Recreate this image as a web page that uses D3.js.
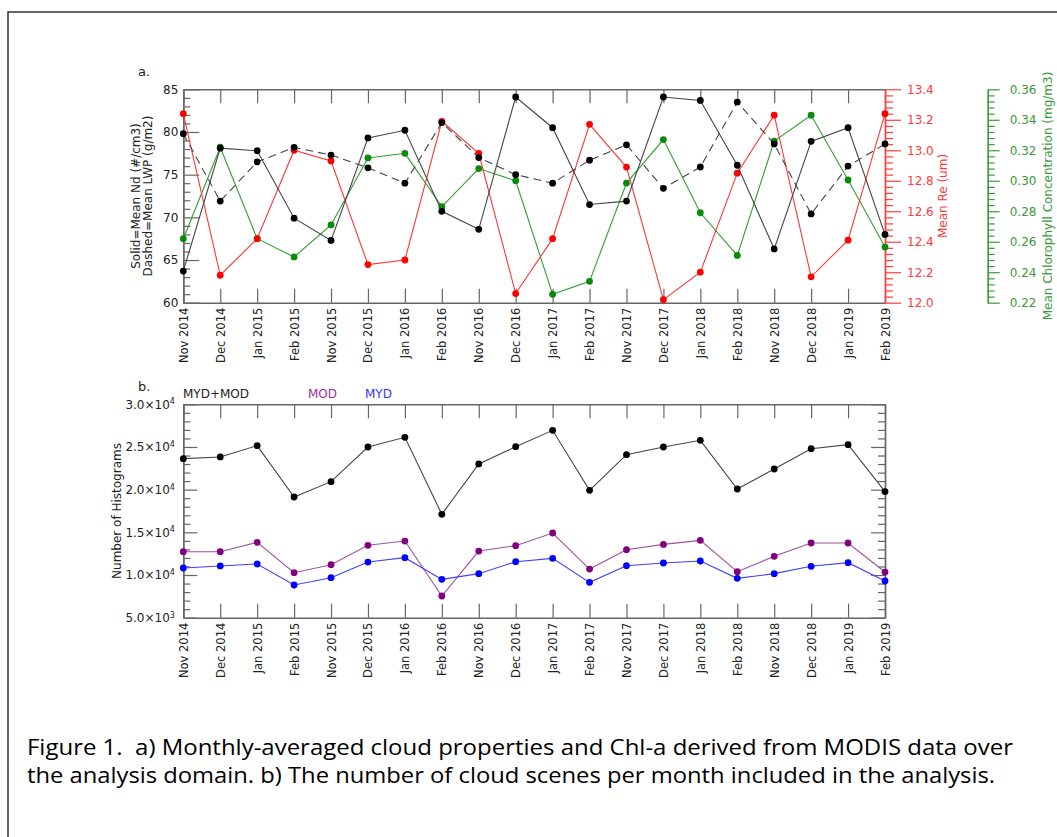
<!DOCTYPE html>
<html><head><meta charset="utf-8">
<script src="https://cdn.jsdelivr.net/npm/d3@7"></script>
<style>
body{margin:0;background:#fff}
svg{display:block}
text{font-family:"DejaVu Sans",sans-serif}
</style>
</head><body>
<svg id="c" width="1057" height="837"></svg>
<script>
// ---------- data ----------
const months = ["Nov 2014","Dec 2014","Jan 2015","Feb 2015","Nov 2015","Dec 2015","Jan 2016","Feb 2016",
  "Nov 2016","Dec 2016","Jan 2017","Feb 2017","Nov 2017","Dec 2017","Jan 2018","Feb 2018",
  "Nov 2018","Dec 2018","Jan 2019","Feb 2019"];
const meanNd  = [63.7,78.1,77.8,69.9,67.3,79.3,80.2,70.7,68.6,84.1,80.5,71.5,71.9,84.1,83.7,76.1,66.3,78.9,80.5,68.0];
const meanLWP = [79.8,71.9,76.5,78.2,77.3,75.8,74.0,81.1,77.0,75.0,74.0,76.7,78.5,73.4,75.9,83.5,78.6,70.4,76.0,78.6];
const meanRe  = [13.24,12.18,12.42,13.00,12.93,12.25,12.28,13.19,12.98,12.06,12.42,13.17,12.89,12.02,12.20,12.85,13.23,12.17,12.41,13.24];
const meanChl = [0.262,0.322,0.262,0.250,0.271,0.315,0.318,0.283,0.308,0.300,0.2255,0.234,0.2985,0.327,0.279,0.251,0.326,0.343,0.3005,0.2565];
const histTotal = [23630,23830,25160,19140,20940,25000,26130,17110,23010,25040,26950,19920,24100,25000,25780,20080,22420,24800,25270,19770];
const histMOD   = [12730,12730,13830,10270,11210,13480,13980,7540,12810,13440,14920,10700,12970,13590,14060,10390,12190,13750,13750,10350];
const histMYD   = [10820,11060,11290,8830,9690,11520,12030,9490,10160,11560,11950,9140,11090,11410,11640,9610,10160,11020,11450,9300];
const ndTicks  = [60,65,70,75,80,85];
const reTicks  = [12.0,12.2,12.4,12.6,12.8,13.0,13.2,13.4];
const chlTicks = [0.22,0.24,0.26,0.28,0.30,0.32,0.34,0.36];
const histTicks = [5000,10000,15000,20000,25000,30000];
const captionLines = [
  "Figure 1.  a) Monthly-averaged cloud properties and Chl-a derived from MODIS data over",
  "the analysis domain. b) The number of cloud scenes per month included in the analysis."
];

// ---------- layout ----------
const svg = d3.select("#c");
svg.append("rect").attr("width",1057).attr("height",837).attr("fill","#fff");
// outer frame
svg.append("path").attr("d","M8,837V12H1057").attr("fill","none").attr("stroke","#333").attr("stroke-width",1.5);

const X0 = 183.3, X1 = 885;
const x = d3.scalePoint().domain(months).range([X0, X1]);
const AX = "#666", TXT = "#222";
const MAJ = 14, MIN = 7;

function minorVals(major, n){
  const out=[];
  for(let i=0;i<major.length-1;i++){
    const a=major[i], b=major[i+1];
    for(let k=1;k<n;k++) out.push(a+(b-a)*k/n);
  }
  return out;
}
function styleAxis(g, color, lw){
  g.select(".domain").attr("stroke", color).attr("stroke-width", lw||1.4);
  g.selectAll(".tick line").attr("stroke", color).attr("stroke-width",1.2);
  g.selectAll("text").attr("fill", color===AX?TXT:color).style("font-size","12px").style("font-family","DejaVu Sans, sans-serif");
}
function xAxes(top, bot){
  const gb = svg.append("g").attr("transform",`translate(0,${bot})`)
    .call(d3.axisBottom(x).tickSize(-MAJ).tickSizeOuter(0).tickPadding(0));
  styleAxis(gb, AX);
  gb.selectAll("text").attr("transform","rotate(-90)").attr("x",-5).attr("y",0).attr("dy","0.35em")
    .style("text-anchor","end").style("font-size","11.5px");
  const gt = svg.append("g").attr("transform",`translate(0,${top})`)
    .call(d3.axisTop(x).tickSize(-MAJ).tickSizeOuter(0).tickFormat(""));
  styleAxis(gt, AX);
}
function line(vals, y){
  return d3.line().x((d,i)=>x(months[i])).y(d=>y(d))(vals);
}
function series(vals, y, lineColor, dotColor, dash){
  svg.append("path").attr("d", line(vals,y)).attr("fill","none").attr("stroke",lineColor)
    .attr("stroke-width",1.1).attr("stroke-dasharray", dash||null);
  svg.append("g").selectAll("circle").data(vals).join("circle")
    .attr("cx",(d,i)=>x(months[i])).attr("cy",d=>y(d)).attr("r",3.4).attr("fill",dotColor);
}

// ---------- panel a ----------
const aTop = 89.3, aBot = 302.7;
const yNd  = d3.scaleLinear().domain([60,85]).range([aBot,aTop]);
const yRe  = d3.scaleLinear().domain([12,13.4]).range([aBot,aTop]);
const yChl = d3.scaleLinear().domain([0.22,0.36]).range([aBot,aTop]);

xAxes(aTop, aBot);
// left axis
let g = svg.append("g").attr("transform",`translate(${X0},0)`)
  .call(d3.axisLeft(yNd).tickValues(minorVals(ndTicks,5)).tickSize(-MIN).tickSizeOuter(0).tickFormat(""));
styleAxis(g, AX);
g = svg.append("g").attr("transform",`translate(${X0},0)`)
  .call(d3.axisLeft(yNd).tickValues(ndTicks).tickSize(-16).tickSizeOuter(0).tickPadding(5).tickFormat(d3.format("d")));
styleAxis(g, AX);
// red right axis
g = svg.append("g").attr("transform",`translate(${X1},0)`)
  .call(d3.axisRight(yRe).tickValues(minorVals(reTicks,5)).tickSize(8).tickSizeOuter(0).tickFormat(""));
styleAxis(g, "#ff3b3b");
g = svg.append("g").attr("transform",`translate(${X1},0)`)
  .call(d3.axisRight(yRe).tickValues(reTicks).tickSize(16).tickSizeOuter(0).tickPadding(6).tickFormat(d3.format(".1f")));
styleAxis(g, "#ff3b3b");
// green axis
const XG = 987.7;
g = svg.append("g").attr("transform",`translate(${XG},0)`)
  .call(d3.axisRight(yChl).tickValues(minorVals(chlTicks,5)).tickSize(7).tickSizeOuter(0).tickFormat(""));
styleAxis(g, "#3a9a3a", 1.2);
g = svg.append("g").attr("transform",`translate(${XG},0)`)
  .call(d3.axisRight(yChl).tickValues(chlTicks).tickSize(12).tickSizeOuter(0).tickPadding(10).tickFormat(d3.format(".2f")));
styleAxis(g, "#3a9a3a", 1.2);

// titles panel a
svg.append("text").attr("x",138).attr("y",76).text("a.").attr("fill",TXT).style("font-size","13px");
const lt = svg.append("text").attr("transform",`translate(143,${(aTop+aBot)/2}) rotate(-90)`)
  .attr("text-anchor","middle").attr("fill",TXT).style("font-size","12px");
lt.append("tspan").attr("x",0).attr("dy","-0.25em").text("Solid=Mean Nd (#/cm3)");
lt.append("tspan").attr("x",0).attr("dy","1.0em").text("Dashed=Mean LWP (g/m2)");
svg.append("text").attr("transform",`translate(943,${(aTop+aBot)/2}) rotate(-90)`)
  .attr("text-anchor","middle").attr("dy","0.35em").attr("fill","#ff3b3b").style("font-size","12px").text("Mean Re (um)");
svg.append("text").attr("transform",`translate(1048,${(aTop+aBot)/2}) rotate(-90)`)
  .attr("text-anchor","middle").attr("dy","0.35em").attr("fill","#3a9a3a").style("font-size","12px")
  .text("Mean Chlorophyll Concentration (mg/m3)");

// series panel a
series(meanChl, yChl, "#2f9f2f", "#0a8a0a");
series(meanRe, yRe, "#ff3535", "#ff0000");
series(meanLWP, yNd, "#444", "#000", "8,5");
series(meanNd, yNd, "#444", "#000");

// ---------- panel b ----------
const bTop = 404.3, bBot = 617.7;
const yH = d3.scaleLinear().domain([5000,30000]).range([bBot,bTop]);
xAxes(bTop, bBot);
g = svg.append("g").attr("transform",`translate(${X0},0)`)
  .call(d3.axisLeft(yH).tickValues(minorVals(histTicks,5)).tickSize(-MIN).tickSizeOuter(0).tickFormat(""));
styleAxis(g, AX);
g = svg.append("g").attr("transform",`translate(${X0},0)`)
  .call(d3.axisLeft(yH).tickValues(histTicks).tickSize(-MAJ).tickSizeOuter(0).tickPadding(6).tickFormat(""));
styleAxis(g, AX);
g.selectAll(".tick").each(function(d){
  const e = Math.floor(Math.log10(d));
  const m = (d/Math.pow(10,e)).toFixed(1);
  const t = d3.select(this).select("text").attr("dx","-0.2em");
  t.text(null);
  t.append("tspan").text(m+"\u00d710");
  t.append("tspan").attr("dy","-0.55em").style("font-size","8px").text(e);
});
g = svg.append("g").attr("transform",`translate(${X1},0)`)
  .call(d3.axisRight(yH).tickValues(minorVals(histTicks,5)).tickSize(-MIN).tickSizeOuter(0).tickFormat(""));
styleAxis(g, AX);
g = svg.append("g").attr("transform",`translate(${X1},0)`)
  .call(d3.axisRight(yH).tickValues(histTicks).tickSize(-MAJ).tickSizeOuter(0).tickFormat(""));
styleAxis(g, AX);

svg.append("text").attr("x",138).attr("y",391).text("b.").attr("fill",TXT).style("font-size","13px");
svg.append("text").attr("x",183).attr("y",398).text("MYD+MOD").attr("fill",TXT).style("font-size","12px");
svg.append("text").attr("x",308).attr("y",398).text("MOD").attr("fill","#a030a0").style("font-size","12px");
svg.append("text").attr("x",365).attr("y",398).text("MYD").attr("fill","#3535ff").style("font-size","12px");
svg.append("text").attr("transform",`translate(117,${(bTop+bBot)/2}) rotate(-90)`)
  .attr("text-anchor","middle").attr("dy","0.35em").attr("fill",TXT).style("font-size","12px").text("Number of Histograms");

series(histTotal, yH, "#444", "#000");
series(histMOD, yH, "#a050a0", "#800080");
series(histMYD, yH, "#4040ff", "#0000ff");

// ---------- caption ----------
const capW = [986, 968];
captionLines.forEach((s,i)=>{
  svg.append("text").attr("x",27).attr("y",755+28*i).text(s)
    .attr("fill","#000").style("font-family","'Open Sans', 'Noto Sans', sans-serif").style("font-size","21.5px")
    .style("white-space","pre")
    .attr("textLength",capW[i]).attr("lengthAdjust","spacingAndGlyphs");
});
</script>
</body></html>
